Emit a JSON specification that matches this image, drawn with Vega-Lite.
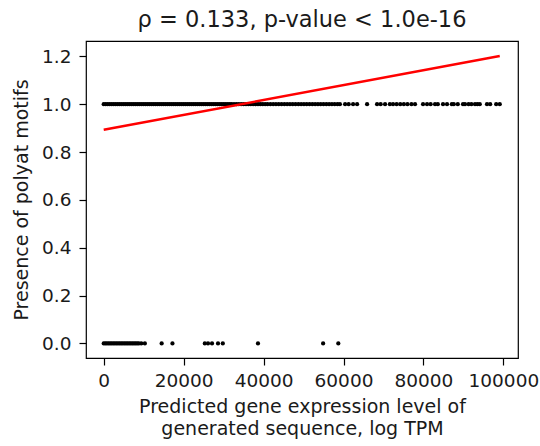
{
"$schema":"https://vega.github.io/schema/vega-lite/v6.json",
"autosize":"none",
"padding":{"left":86,"top":41,"right":22,"bottom":88},
"width":432,"height":317,
"background":"white",
"config":{"font":"DejaVu Sans","view":{"stroke":"#000","strokeWidth":1.2},
"axis":{"grid":false,"domain":false,"tickColor":"#000","tickSize":7,"tickWidth":1.2,"labelColor":"#1a1a1a","titleColor":"#1a1a1a","labelFont":"DejaVu Sans","titleFont":"DejaVu Sans","labelFontSize":18.5,"titleFontSize":19,"titleFontWeight":"normal"}},
"title":{"text":"ρ = 0.133, p-value < 1.0e-16","font":"DejaVu Sans","fontSize":22.5,"fontWeight":"normal","color":"#1a1a1a","offset":10},
"datasets":{
"pts":[
{"x":0,"y":1},{"x":500,"y":1},{"x":1000,"y":1},{"x":1500,"y":1},{"x":2000,"y":1},{"x":2500,"y":1},{"x":3000,"y":1},{"x":3500,"y":1},{"x":4000,"y":1},{"x":4500,"y":1},{"x":5000,"y":1},{"x":5500,"y":1},{"x":6000,"y":1},{"x":6500,"y":1},{"x":7000,"y":1},{"x":7500,"y":1},{"x":8000,"y":1},{"x":8500,"y":1},{"x":9000,"y":1},{"x":9500,"y":1},{"x":10000,"y":1},{"x":10500,"y":1},{"x":11000,"y":1},{"x":11500,"y":1},{"x":12000,"y":1},{"x":12500,"y":1},{"x":13000,"y":1},{"x":13500,"y":1},{"x":14000,"y":1},{"x":14500,"y":1},{"x":15000,"y":1},{"x":15500,"y":1},{"x":16000,"y":1},{"x":16500,"y":1},{"x":17000,"y":1},{"x":17500,"y":1},{"x":18000,"y":1},{"x":18500,"y":1},{"x":19000,"y":1},{"x":19500,"y":1},{"x":20000,"y":1},{"x":20500,"y":1},{"x":21000,"y":1},{"x":21500,"y":1},{"x":22000,"y":1},{"x":22500,"y":1},{"x":23000,"y":1},{"x":23500,"y":1},{"x":24000,"y":1},{"x":24500,"y":1},{"x":25000,"y":1},{"x":25500,"y":1},{"x":26000,"y":1},{"x":26500,"y":1},{"x":27000,"y":1},{"x":27500,"y":1},{"x":28000,"y":1},{"x":28500,"y":1},{"x":29000,"y":1},{"x":29500,"y":1},{"x":30000,"y":1},{"x":30500,"y":1},{"x":31000,"y":1},{"x":31500,"y":1},{"x":32000,"y":1},
{"x":32600,"y":1},{"x":33200,"y":1},{"x":33800,"y":1},{"x":34400,"y":1},{"x":35000,"y":1},{"x":35600,"y":1},{"x":36200,"y":1},{"x":36800,"y":1},{"x":37400,"y":1},{"x":38000,"y":1},{"x":38600,"y":1},{"x":39200,"y":1},{"x":39800,"y":1},{"x":40400,"y":1},{"x":41000,"y":1},{"x":41700,"y":1},{"x":42400,"y":1},{"x":43100,"y":1},{"x":43800,"y":1},{"x":44500,"y":1},{"x":45200,"y":1},{"x":45900,"y":1},{"x":46600,"y":1},{"x":47300,"y":1},{"x":48000,"y":1},{"x":48700,"y":1},{"x":49400,"y":1},{"x":50100,"y":1},{"x":50800,"y":1},{"x":51500,"y":1},{"x":52200,"y":1},{"x":52900,"y":1},{"x":53600,"y":1},{"x":54300,"y":1},{"x":55000,"y":1},{"x":55700,"y":1},{"x":56400,"y":1},{"x":57100,"y":1},{"x":57800,"y":1},{"x":58500,"y":1},{"x":59100,"y":1},
{"x":60400,"y":1},{"x":61300,"y":1},{"x":62400,"y":1},{"x":63400,"y":1},{"x":65900,"y":1},{"x":68400,"y":1},{"x":69300,"y":1},{"x":70400,"y":1},{"x":71600,"y":1},{"x":72400,"y":1},{"x":73300,"y":1},{"x":74200,"y":1},{"x":75100,"y":1},{"x":76000,"y":1},{"x":77000,"y":1},{"x":77900,"y":1},{"x":79900,"y":1},{"x":80900,"y":1},{"x":81800,"y":1},{"x":82900,"y":1},{"x":83600,"y":1},{"x":84900,"y":1},{"x":85900,"y":1},{"x":87100,"y":1},{"x":87600,"y":1},{"x":88600,"y":1},{"x":89900,"y":1},{"x":90400,"y":1},{"x":91300,"y":1},{"x":92000,"y":1},{"x":92900,"y":1},{"x":93500,"y":1},{"x":94100,"y":1},{"x":95900,"y":1},{"x":96700,"y":1},{"x":98200,"y":1},{"x":99100,"y":1},
{"x":0,"y":0},{"x":400,"y":0},{"x":800,"y":0},{"x":1200,"y":0},{"x":1600,"y":0},{"x":2000,"y":0},{"x":2400,"y":0},{"x":2800,"y":0},{"x":3200,"y":0},{"x":3600,"y":0},{"x":4000,"y":0},{"x":4400,"y":0},{"x":4800,"y":0},{"x":5200,"y":0},{"x":5600,"y":0},{"x":6000,"y":0},{"x":6400,"y":0},{"x":6800,"y":0},{"x":7200,"y":0},{"x":7600,"y":0},{"x":8000,"y":0},{"x":8400,"y":0},{"x":8800,"y":0},{"x":9400,"y":0},{"x":10300,"y":0},{"x":14500,"y":0},{"x":17200,"y":0},{"x":25300,"y":0},{"x":26100,"y":0},{"x":27100,"y":0},{"x":28600,"y":0},{"x":29800,"y":0},{"x":38600,"y":0},{"x":54900,"y":0},{"x":58700,"y":0}
],
"fit":[{"x":0,"y":0.893},{"x":99100,"y":1.201}]
},
"layer":[
{"data":{"name":"pts"},"mark":{"type":"circle","color":"#000","size":18,"opacity":1},
"encoding":{
"x":{"field":"x","type":"quantitative","scale":{"domain":[-4430,103660],"nice":false,"zero":false},
"axis":{"values":[0,20000,40000,60000,80000,100000],"format":"d","labelPadding":6,"titlePadding":8,"titleLineHeight":22,"title":["Predicted gene expression level of","generated sequence, log TPM"]}},
"y":{"field":"y","type":"quantitative","scale":{"domain":[-0.061,1.264],"nice":false,"zero":false},
"axis":{"values":[0,0.2,0.4,0.6,0.8,1.0,1.2],"format":".1f","labelPadding":8,"titlePadding":10,"title":"Presence of polyat motifs"}}}},
{"data":{"name":"fit"},"mark":{"type":"line","color":"#ff0000","strokeWidth":2.5},
"encoding":{"x":{"field":"x","type":"quantitative"},"y":{"field":"y","type":"quantitative"}}}
]
}
